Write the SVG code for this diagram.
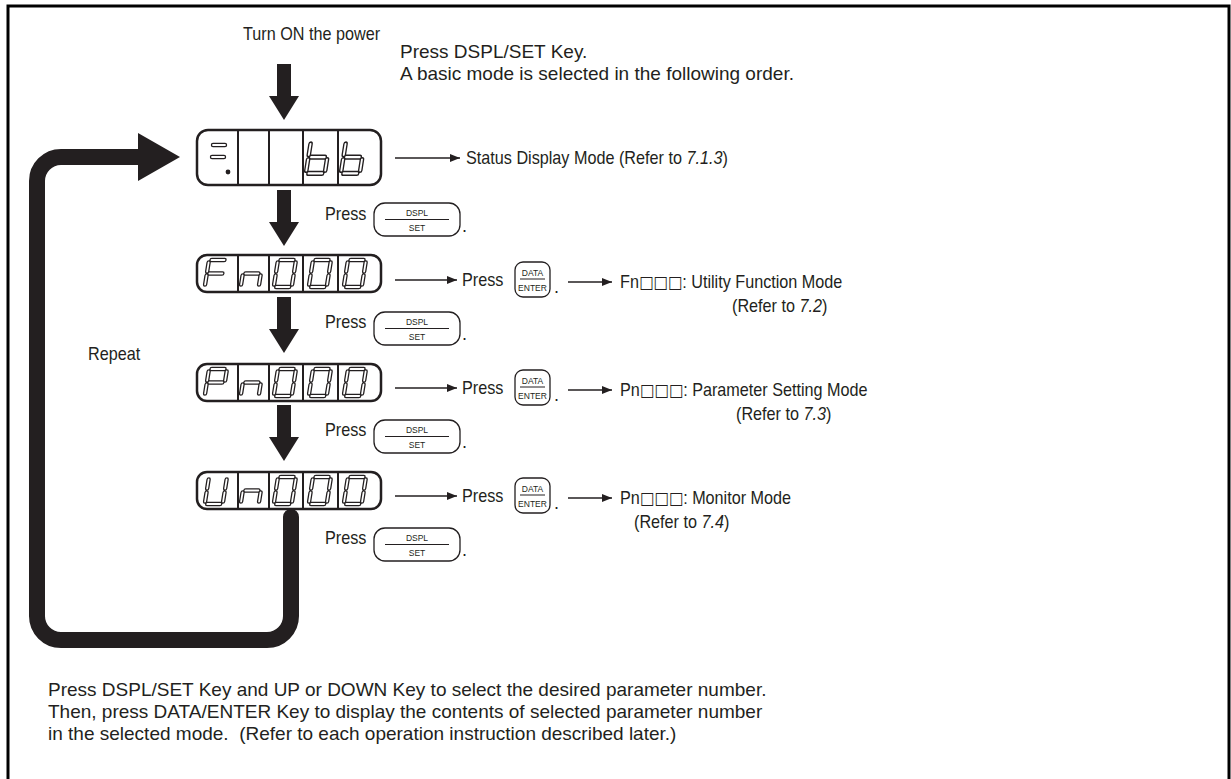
<svg xmlns="http://www.w3.org/2000/svg" xmlns:xlink="http://www.w3.org/1999/xlink" width="1231" height="779" viewBox="0 0 1231 779">
<style>
text{font-family:"Liberation Sans",Arial,sans-serif;fill:#231f20}
.t{font-size:18px}
.b{font-size:19px}
.sq{font-family:"DejaVu Sans",sans-serif;font-size:17px}
.k{font-size:8.5px;text-anchor:middle}
.box{fill:#fff;stroke:#231f20;stroke-width:2.5}
.div{stroke:#231f20;stroke-width:2}
.key{fill:#fff;stroke:#231f20;stroke-width:1.3}
.kl{stroke:#231f20;stroke-width:1}
.con{stroke:#231f20;stroke-width:1.4;fill:none;marker-end:url(#ah)}
.segO{fill:none;stroke:#231f20;stroke-width:4.4;stroke-linecap:round;stroke-linejoin:round}
.segI{fill:none;stroke:#fff;stroke-width:1.8;stroke-linecap:round;stroke-linejoin:round}
.big{fill:#231f20}
</style>
<defs>
<marker id="ah" viewBox="0 0 10 8" refX="10" refY="4" markerWidth="10" markerHeight="8" markerUnits="userSpaceOnUse" orient="auto">
<path d="M0,0 L10,4 L0,8 Z" fill="#231f20"/>
</marker>
<path id="down" d="M-7,0 H7 V32 H15 L0,56 L-15,32 H-7 Z"/>
<path id="d0" d="M2.5,0 H15.5 M18,2.5 V11.5 M18,15.5 V24.5 M2.5,27 H15.5 M0,15.5 V24.5 M0,2.5 V11.5"/>
<path id="dF" d="M2.5,0 H15.5 M0,2.5 V11.5 M0,15.5 V24.5 M2.5,13.5 H15.5"/>
<path id="dn" d="M2.5,13.5 H15.5 M18,15.5 V24.5 M0,15.5 V24.5"/>
<path id="dP" d="M2.5,0 H15.5 M18,2.5 V11.5 M0,2.5 V11.5 M0,15.5 V24.5 M2.5,13.5 H15.5"/>
<path id="dU" d="M18,2.5 V11.5 M18,15.5 V24.5 M2.5,27 H15.5 M0,15.5 V24.5 M0,2.5 V11.5"/>
<path id="db" d="M0,2.5 V11.5 M0,15.5 V24.5 M2.5,27 H15.5 M18,15.5 V24.5 M2.5,13.5 H15.5"/>
<g id="key1">
<rect class="key" x="0" y="0" width="86" height="33" rx="11"/>
<text class="k" x="43" y="13">DSPL</text>
<line class="kl" x1="11" y1="16.5" x2="75" y2="16.5"/>
<text class="k" x="43" y="28">SET</text>
</g>
<g id="key2">
<rect class="key" x="0" y="0" width="35" height="35" rx="8"/>
<text class="k" x="17.5" y="14">DATA</text>
<line class="kl" x1="5" y1="17" x2="30" y2="17"/>
<text class="k" x="17.5" y="29">ENTER</text>
</g>
</defs>

<rect id="frame" x="8" y="6" width="1221" height="800" fill="none" stroke="#000" stroke-width="3"/>

<g id="header">
<text class="t" transform="translate(243,40) scale(0.9,1)">Turn ON the power</text>
<text class="b" x="400" y="58">Press DSPL/SET Key.</text>
<text class="b" x="400" y="80">A basic mode is selected in the following order.</text>
</g>

<g id="big-arrows">
<use href="#down" class="big" x="284" y="64"/>
<use href="#down" class="big" x="284" y="190"/>
<use href="#down" class="big" x="284" y="297"/>
<use href="#down" class="big" x="284" y="405"/>
<path id="repeat-loop" d="M291,517 V616 A24,24 0 0 1 267,640 H61 A24,24 0 0 1 37,616 V181 A24,24 0 0 1 61,157 H142" fill="none" stroke="#231f20" stroke-width="16" stroke-linecap="round"/>
<polygon class="big" points="138,133 180,157 138,181"/>
</g>

<g id="status-display">
<rect class="box" x="197" y="130" width="184" height="55" rx="11"/>
<line class="div" x1="238" y1="130" x2="238" y2="185"/>
<line class="div" x1="269" y1="130" x2="269" y2="185"/>
<line class="div" x1="303" y1="130" x2="303" y2="185"/>
<line class="div" x1="338" y1="130" x2="338" y2="185"/>
<path class="segO" d="M213,145 H225 M212,157 H224"/>
<path class="segI" d="M213,145 H225 M212,157 H224"/>
<circle cx="228" cy="172" r="2.4" fill="#231f20"/>
<g transform="translate(311,141) skewX(-9) scale(1.05,1.2)"><use href="#db" class="segO"/><use href="#db" class="segI"/></g>
<g transform="translate(346,141) skewX(-9) scale(1.05,1.2)"><use href="#db" class="segO"/><use href="#db" class="segI"/></g>
</g>

<g id="fn-display">
<rect class="box" x="197" y="255" width="184" height="37" rx="10"/>
<line class="div" x1="238" y1="255" x2="238" y2="292"/>
<line class="div" x1="269" y1="255" x2="269" y2="292"/>
<line class="div" x1="303" y1="255" x2="303" y2="292"/>
<line class="div" x1="338" y1="255" x2="338" y2="292"/>
<g transform="translate(209,260) skewX(-9)"><use href="#dF" class="segO"/><use href="#dF" class="segI"/></g>
<g transform="translate(245,260) skewX(-9)"><use href="#dn" class="segO"/><use href="#dn" class="segI"/></g>
<g transform="translate(278,260) skewX(-9)"><use href="#d0" class="segO"/><use href="#d0" class="segI"/></g>
<g transform="translate(313,260) skewX(-9)"><use href="#d0" class="segO"/><use href="#d0" class="segI"/></g>
<g transform="translate(348,260) skewX(-9)"><use href="#d0" class="segO"/><use href="#d0" class="segI"/></g>
</g>

<g id="pn-display">
<rect class="box" x="197" y="364" width="184" height="37" rx="10"/>
<line class="div" x1="238" y1="364" x2="238" y2="401"/>
<line class="div" x1="269" y1="364" x2="269" y2="401"/>
<line class="div" x1="303" y1="364" x2="303" y2="401"/>
<line class="div" x1="338" y1="364" x2="338" y2="401"/>
<g transform="translate(209,369) skewX(-9)"><use href="#dP" class="segO"/><use href="#dP" class="segI"/></g>
<g transform="translate(245,369) skewX(-9)"><use href="#dn" class="segO"/><use href="#dn" class="segI"/></g>
<g transform="translate(278,369) skewX(-9)"><use href="#d0" class="segO"/><use href="#d0" class="segI"/></g>
<g transform="translate(313,369) skewX(-9)"><use href="#d0" class="segO"/><use href="#d0" class="segI"/></g>
<g transform="translate(348,369) skewX(-9)"><use href="#d0" class="segO"/><use href="#d0" class="segI"/></g>
</g>

<g id="un-display">
<rect class="box" x="197" y="472" width="184" height="37" rx="10"/>
<line class="div" x1="238" y1="472" x2="238" y2="509"/>
<line class="div" x1="269" y1="472" x2="269" y2="509"/>
<line class="div" x1="303" y1="472" x2="303" y2="509"/>
<line class="div" x1="338" y1="472" x2="338" y2="509"/>
<g transform="translate(209,477) skewX(-9)"><use href="#dU" class="segO"/><use href="#dU" class="segI"/></g>
<g transform="translate(245,477) skewX(-9)"><use href="#dn" class="segO"/><use href="#dn" class="segI"/></g>
<g transform="translate(278,477) skewX(-9)"><use href="#d0" class="segO"/><use href="#d0" class="segI"/></g>
<g transform="translate(313,477) skewX(-9)"><use href="#d0" class="segO"/><use href="#d0" class="segI"/></g>
<g transform="translate(348,477) skewX(-9)"><use href="#d0" class="segO"/><use href="#d0" class="segI"/></g>
</g>

<g id="connectors">
<line class="con" x1="395" y1="158" x2="460" y2="158"/>
<line class="con" x1="395" y1="280" x2="457" y2="280"/>
<line class="con" x1="568" y1="282" x2="612" y2="282"/>
<line class="con" x1="395" y1="388" x2="457" y2="388"/>
<line class="con" x1="568" y1="390" x2="612" y2="390"/>
<line class="con" x1="395" y1="496" x2="457" y2="496"/>
<line class="con" x1="568" y1="498" x2="612" y2="498"/>
</g>

<g id="status-label"><text class="t" transform="translate(466,164) scale(0.9,1)">Status Display Mode (Refer to <tspan font-style="italic">7.1.3</tspan>)</text></g>

<g id="press-dspl-1"><text class="t" transform="translate(325,220) scale(0.9,1)">Press</text><use href="#key1" x="374" y="203"/><text class="t" x="462" y="232">.</text></g>
<g id="press-dspl-2"><text class="t" transform="translate(325,328) scale(0.9,1)">Press</text><use href="#key1" x="374" y="312"/><text class="t" x="462" y="340">.</text></g>
<g id="press-dspl-3"><text class="t" transform="translate(325,436) scale(0.9,1)">Press</text><use href="#key1" x="374" y="420"/><text class="t" x="462" y="448">.</text></g>
<g id="press-dspl-4"><text class="t" transform="translate(325,544) scale(0.9,1)">Press</text><use href="#key1" x="374" y="528"/><text class="t" x="462" y="556">.</text></g>

<g id="fn-row">
<text class="t" transform="translate(462,286) scale(0.9,1)">Press</text><use href="#key2" x="515" y="262"/><text class="t" x="554" y="293">.</text>
<text class="t" transform="translate(620,288) scale(0.9,1)">Fn<tspan class="sq">□□□</tspan>: Utility Function Mode</text>
<text class="t" transform="translate(732,312) scale(0.9,1)">(Refer to <tspan font-style="italic">7.2</tspan>)</text>
</g>
<g id="pn-row">
<text class="t" transform="translate(462,394) scale(0.9,1)">Press</text><use href="#key2" x="515" y="370"/><text class="t" x="554" y="401">.</text>
<text class="t" transform="translate(620,396) scale(0.9,1)">Pn<tspan class="sq">□□□</tspan>: Parameter Setting Mode</text>
<text class="t" transform="translate(736,420) scale(0.9,1)">(Refer to <tspan font-style="italic">7.3</tspan>)</text>
</g>
<g id="un-row">
<text class="t" transform="translate(462,502) scale(0.9,1)">Press</text><use href="#key2" x="515" y="478"/><text class="t" x="554" y="509">.</text>
<text class="t" transform="translate(620,504) scale(0.9,1)">Pn<tspan class="sq">□□□</tspan>: Monitor Mode</text>
<text class="t" transform="translate(634,528) scale(0.9,1)">(Refer to <tspan font-style="italic">7.4</tspan>)</text>
</g>

<g id="repeat-label"><text class="t" transform="translate(88,360) scale(0.9,1)">Repeat</text></g>

<g id="footer">
<text class="b" x="48" y="696">Press DSPL/SET Key and UP or DOWN Key to select the desired parameter number.</text>
<text class="b" x="48" y="718">Then, press DATA/ENTER Key to display the contents of selected parameter number</text>
<text class="b" x="48" y="740" xml:space="preserve">in the selected mode.  (Refer to each operation instruction described later.)</text>
</g>
</svg>
